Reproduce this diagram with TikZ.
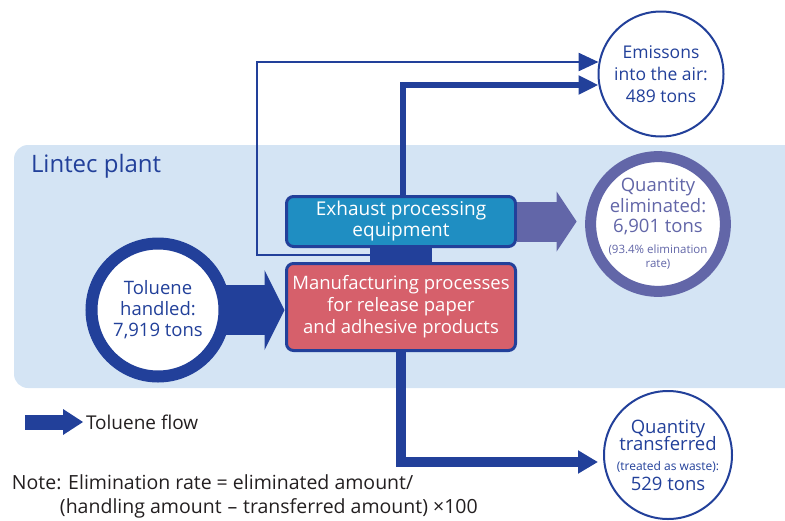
\documentclass[tikz,border=0pt]{standalone}
\usepackage{fontspec}
\setmainfont{Open Sans}
\usetikzlibrary{arrows.meta,positioning}
\definecolor{ToluBlue}{HTML}{22409A}
\definecolor{PlantPale}{HTML}{D4E4F4}
\definecolor{ExhTeal}{HTML}{1F8EC2}
\definecolor{MfgRose}{HTML}{D6606B}
\definecolor{ElimPurple}{HTML}{6266A8}
\definecolor{NoteInk}{HTML}{231F20}
\tikzset{
  procbox/.style={draw=ToluBlue,line width=3pt,rounded corners=7pt,text=white,align=center,minimum width=229pt,inner sep=0pt,outer sep=0pt},
  neckbar/.style={fill=ToluBlue,minimum width=62pt,minimum height=17pt,inner sep=0pt,outer sep=0pt},
  ring/.style={circle,draw=ToluBlue,fill=white,text=ToluBlue,align=center,inner sep=0pt,outer sep=0pt},
  pipe/.style={draw=ToluBlue,-{Triangle[length=20pt,width=18pt]}},
  fatflow/.style n args={3}{draw=#1,line width=#2,-{Triangle[length=20pt,width=#3,line width=0pt]}},
  plaintext/.style={inner sep=0pt,outer sep=0pt}
}
\begin{document}
\begin{tikzpicture}[x=1pt,y=-1pt,font=\fontsize{18.5}{22}\selectfont]
  \clip (0,0) rectangle (785,520);
  % plant area
  \fill[PlantPale,rounded corners=14pt] (14,145) rectangle (810,388);
  \node[plaintext,anchor=west,text=ToluBlue,font=\fontsize{24}{28}\selectfont] (plant) at (31,166) {Lintec plant};
  % processes
  \node[procbox,fill=MfgRose,minimum height=87pt] (mfg) at (401,307) {Manufacturing processes\\for release paper\\and adhesive products};
  \node[neckbar,above=0pt of mfg] (neck) {};
  \node[procbox,fill=ExhTeal,minimum height=50pt,above=17pt of mfg,font=\fontsize{19}{21}\selectfont] (exh) {Exhaust processing\\equipment};
  % quantities
  \node[ring,minimum size=133pt,line width=12pt,font=\fontsize{18.5}{21}\selectfont] (tol) at (158,310) {Toluene\\handled:\\7,919 tons};
  \node[ring,minimum size=125pt,line width=2pt,font=\fontsize{17.5}{22}\selectfont] (emis) at (661,74) {Emissons\\into the air:\\489 tons};
  \node[ring,minimum size=132pt,line width=11pt,draw=ElimPurple,text=ElimPurple,font=\fontsize{18.5}{20.5}\selectfont] (elim) at (658,224)
    {Quantity\\eliminated:\\6,901 tons\\{\fontsize{11.5}{12}\selectfont(93.4\% elimination}\\[-6pt]{\fontsize{11.5}{12}\selectfont rate)}};
  \node[ring,minimum size=128pt,line width=2pt,font=\fontsize{18.5}{20}\selectfont] (trans) at (668,455)
    {Quantity\\[-3pt]transferred\\{\fontsize{12}{12}\selectfont(treated as waste):}\\529 tons};
  % flows
  \draw[fatflow={ToluBlue}{50pt}{80pt},shorten >=2pt] (tol.east) -- (tol.east -| mfg.west);
  \draw[fatflow={ElimPurple}{40pt}{60pt},shorten >=14pt] ([xshift=1.5pt]exh.east) -- (exh.east -| elim.west);
  \coordinate (airhi) at ([yshift=12pt]emis.west);
  \coordinate (airlo) at ([yshift=-11pt]emis.west);
  \draw[pipe,line width=2.5pt] (neck.west) -- ++(-113,0) |- (airhi);
  \draw[pipe,line width=5.5pt] ([xshift=2pt]exh.north) |- (airlo);
  \draw[pipe,line width=10pt,-{Triangle[length=20pt,width=22pt]},shorten >=6pt] (mfg.south) |- ([yshift=-7pt]trans.west);
  % legend and note
  \node[plaintext,anchor=west,text=NoteInk,font=\fontsize{19}{21}\selectfont] (key) at (86,422) {Toluene flow};
  \draw[fatflow={ToluBlue}{15pt}{26pt},shorten >=3pt] ([xshift=-61pt]key.west) -- (key.west);
  \node[plaintext,anchor=north west,align=left,text=NoteInk,font=\fontsize{19.5}{24}\selectfont] (note) at (12,475)
    {Note: Elimination rate = eliminated amount/\\\hspace*{48pt}(handling amount\hspace{0.3em}–\hspace{0.3em}transferred amount) ×100};
\end{tikzpicture}
\end{document}
